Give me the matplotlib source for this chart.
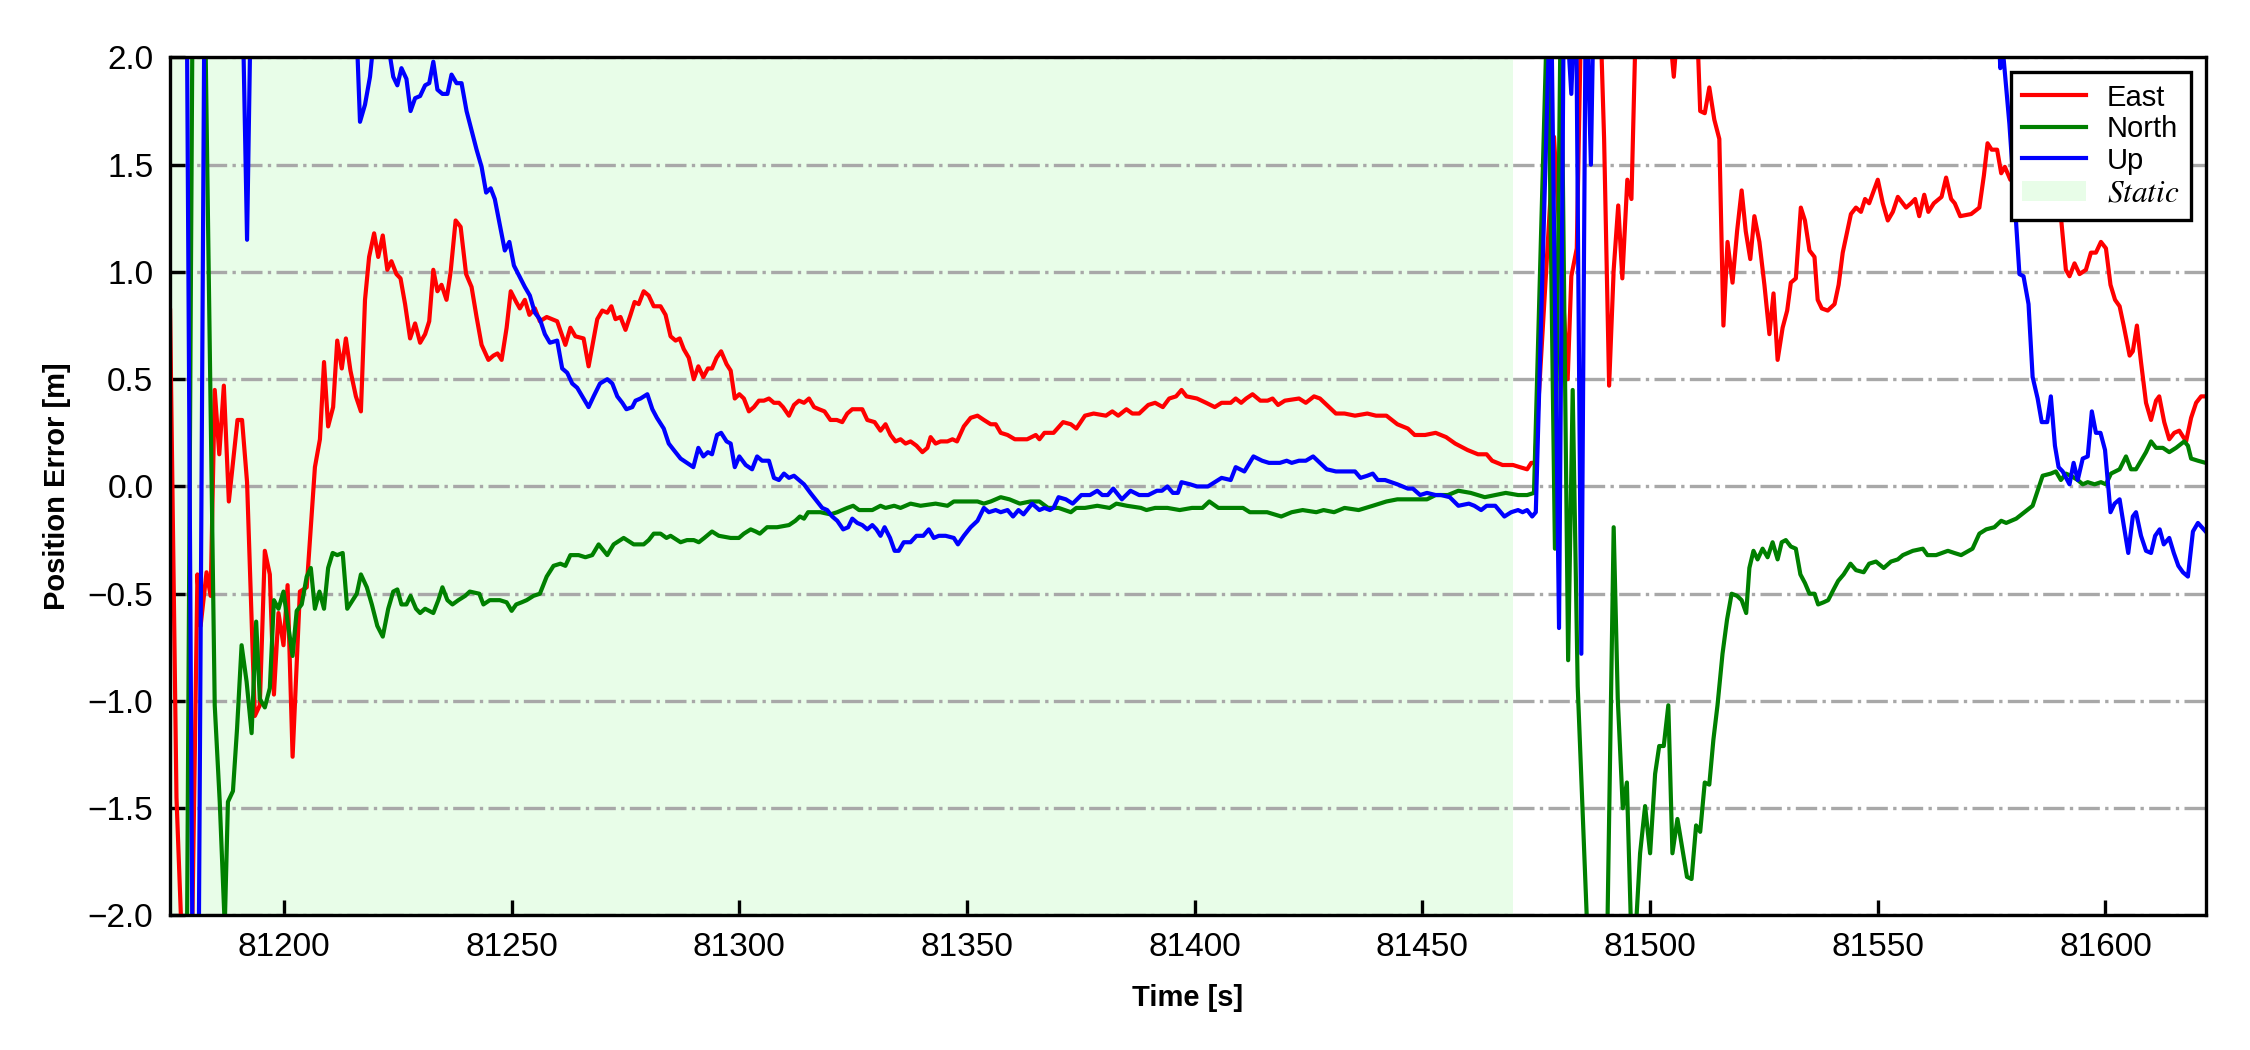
"""Position error (E/N/U) of a static-then-kinematic GNSS run."""

import matplotlib

matplotlib.use("Agg")
import matplotlib.pyplot as plt
import numpy as np
from matplotlib.ticker import MultipleLocator

plt.rcParams["font.family"] = ["Liberation Sans", "DejaVu Sans"]
plt.rcParams["mathtext.fontset"] = "stix"

# (time [s], error [m]) samples; values outside +-2 are clipped spikes
east = [
    (81175.0, 0.82), (81176.4, -1.45), (81177.9, -2.3), (81179.7, -2.3), (81181.0, -0.41),
    (81181.7, -0.65), (81183.0, -0.40), (81183.9, -0.51), (81184.8, 0.45), (81185.8, 0.15),
    (81186.8, 0.47), (81187.9, -0.07), (81189.8, 0.31), (81190.8, 0.31), (81191.9, 0.02),
    (81193.6, -1.07), (81194.7, -1.02), (81195.8, -0.30), (81196.9, -0.41), (81197.8, -0.97),
    (81198.8, -0.59), (81199.9, -0.74), (81200.8, -0.46), (81201.9, -1.26), (81203.5, -0.49),
    (81205.0, -0.47), (81206.8, 0.09), (81207.9, 0.22), (81208.8, 0.58), (81209.7, 0.28),
    (81210.8, 0.37), (81211.7, 0.68), (81212.7, 0.55), (81213.6, 0.69), (81214.6, 0.54),
    (81215.8, 0.42), (81216.9, 0.35), (81217.8, 0.87), (81218.7, 1.07), (81219.8, 1.18),
    (81220.7, 1.07), (81221.7, 1.17), (81222.7, 1.01), (81223.6, 1.05), (81224.7, 0.99),
    (81225.6, 0.97), (81226.6, 0.85), (81227.7, 0.69), (81228.8, 0.76), (81229.9, 0.67),
    (81231.0, 0.71), (81231.9, 0.77), (81232.8, 1.01), (81233.7, 0.91), (81234.6, 0.94),
    (81235.7, 0.87), (81236.6, 1.00), (81237.7, 1.24), (81238.8, 1.21), (81240.0, 0.99),
    (81241.2, 0.93), (81242.3, 0.79), (81243.4, 0.66), (81244.9, 0.59), (81246.0, 0.61),
    (81246.9, 0.62), (81247.8, 0.59), (81248.9, 0.74), (81249.8, 0.91), (81251.0, 0.86),
    (81251.8, 0.83), (81252.9, 0.87), (81253.9, 0.80), (81255.1, 0.83), (81256.2, 0.77),
    (81257.7, 0.79), (81260.0, 0.77), (81261.8, 0.66), (81262.9, 0.74), (81264.0, 0.70),
    (81265.8, 0.69), (81266.9, 0.56), (81268.8, 0.78), (81269.9, 0.82), (81271.0, 0.81),
    (81271.9, 0.84), (81272.8, 0.78), (81273.9, 0.79), (81275.0, 0.73), (81276.1, 0.80),
    (81277.0, 0.86), (81277.9, 0.85), (81279.0, 0.91), (81280.1, 0.89), (81281.2, 0.84),
    (81282.7, 0.84), (81283.8, 0.80), (81284.9, 0.70), (81286.0, 0.68), (81286.9, 0.69),
    (81287.8, 0.64), (81288.9, 0.60), (81290.0, 0.50), (81291.0, 0.56), (81292.1, 0.51),
    (81293.1, 0.55), (81294.0, 0.55), (81295.0, 0.60), (81296.0, 0.63), (81297.2, 0.57),
    (81298.1, 0.54), (81299.0, 0.41), (81300.0, 0.43), (81301.0, 0.41), (81302.1, 0.35),
    (81303.2, 0.37), (81304.3, 0.40), (81305.4, 0.40), (81306.5, 0.41), (81307.6, 0.39),
    (81308.7, 0.39), (81309.6, 0.37), (81310.9, 0.33), (81312.0, 0.38), (81313.1, 0.40),
    (81314.2, 0.39), (81315.3, 0.41), (81316.4, 0.37), (81317.5, 0.36), (81318.7, 0.35),
    (81320.0, 0.31), (81321.4, 0.31), (81322.6, 0.30), (81323.7, 0.34), (81324.8, 0.36),
    (81325.9, 0.36), (81327.0, 0.36), (81328.1, 0.31), (81329.7, 0.30), (81331.0, 0.26),
    (81332.1, 0.29), (81333.2, 0.24), (81334.3, 0.21), (81335.4, 0.22), (81336.5, 0.20),
    (81337.6, 0.21), (81338.9, 0.19), (81340.2, 0.16), (81341.3, 0.18), (81342.0, 0.23),
    (81343.1, 0.20), (81344.2, 0.21), (81345.7, 0.21), (81346.8, 0.22), (81347.8, 0.21),
    (81349.3, 0.28), (81350.8, 0.32), (81352.3, 0.33), (81353.7, 0.31), (81355.2, 0.29),
    (81356.3, 0.29), (81357.4, 0.25), (81358.9, 0.24), (81360.5, 0.22), (81363.2, 0.22),
    (81365.1, 0.24), (81365.9, 0.22), (81367.0, 0.25), (81369.0, 0.25), (81371.1, 0.30),
    (81372.8, 0.29), (81374.0, 0.27), (81375.9, 0.33), (81377.8, 0.34), (81380.5, 0.33),
    (81381.9, 0.35), (81383.2, 0.33), (81385.0, 0.36), (81386.3, 0.34), (81387.8, 0.34),
    (81389.8, 0.38), (81391.3, 0.39), (81393.0, 0.37), (81394.4, 0.41), (81395.9, 0.42),
    (81397.1, 0.45), (81398.2, 0.42), (81400.5, 0.41), (81402.5, 0.39), (81404.4, 0.37),
    (81405.9, 0.39), (81407.9, 0.39), (81409.0, 0.41), (81410.2, 0.39), (81411.3, 0.41),
    (81412.7, 0.43), (81414.4, 0.40), (81416.0, 0.40), (81417.1, 0.41), (81418.3, 0.38),
    (81419.8, 0.40), (81422.9, 0.41), (81424.4, 0.39), (81426.2, 0.42), (81427.5, 0.41),
    (81429.0, 0.38), (81431.0, 0.34), (81432.9, 0.34), (81435.2, 0.33), (81437.9, 0.34),
    (81439.8, 0.33), (81442.1, 0.33), (81444.5, 0.29), (81446.8, 0.27), (81448.3, 0.24),
    (81450.6, 0.24), (81452.9, 0.25), (81455.2, 0.23), (81457.2, 0.20), (81459.9, 0.17),
    (81462.2, 0.15), (81464.1, 0.15), (81465.3, 0.12), (81467.6, 0.10), (81469.9, 0.10),
    (81471.4, 0.09), (81473.0, 0.08), (81473.9, 0.11), (81474.7, 0.11), (81478.9, 1.63),
    (81481.9, 0.50), (81482.7, 0.98), (81483.9, 1.11), (81485.2, 2.6), (81488.5, 2.6),
    (81489.9, 1.62), (81491.0, 0.47), (81492.0, 1.01), (81493.0, 1.31), (81493.9, 0.97),
    (81495.0, 1.43), (81495.9, 1.34), (81496.9, 2.2), (81500.0, 2.5), (81504.4, 2.1),
    (81505.2, 1.91), (81505.9, 2.1), (81508.0, 2.4), (81510.4, 2.1), (81511.0, 1.75),
    (81512.0, 1.74), (81513.0, 1.86), (81514.1, 1.71), (81515.2, 1.62), (81516.1, 0.75),
    (81517.0, 1.14), (81518.1, 0.95), (81519.1, 1.19), (81520.1, 1.38), (81521.0, 1.19),
    (81522.0, 1.06), (81522.9, 1.26), (81524.0, 1.14), (81525.1, 0.94), (81526.2, 0.71),
    (81527.1, 0.90), (81528.0, 0.59), (81529.1, 0.74), (81530.1, 0.82), (81530.9, 0.95),
    (81532.0, 0.97), (81533.1, 1.30), (81534.0, 1.24), (81535.0, 1.10), (81536.1, 1.07),
    (81536.8, 0.87), (81537.7, 0.83), (81539.0, 0.82), (81540.5, 0.85), (81541.4, 0.94),
    (81542.3, 1.09), (81544.1, 1.27), (81545.2, 1.30), (81546.3, 1.28), (81547.2, 1.34),
    (81548.1, 1.32), (81550.0, 1.43), (81551.1, 1.32), (81552.2, 1.24), (81553.3, 1.28),
    (81554.4, 1.35), (81556.2, 1.30), (81557.3, 1.32), (81558.2, 1.34), (81559.1, 1.26),
    (81560.2, 1.36), (81561.1, 1.28), (81562.3, 1.32), (81564.0, 1.35), (81565.0, 1.44),
    (81566.1, 1.34), (81566.9, 1.32), (81568.1, 1.26), (81570.5, 1.27), (81572.3, 1.30),
    (81573.3, 1.45), (81574.1, 1.60), (81575.0, 1.57), (81576.2, 1.57), (81577.1, 1.46),
    (81577.9, 1.49), (81579.1, 1.43), (81582.0, 1.40), (81585.0, 1.35), (81590.2, 1.26),
    (81591.3, 1.01), (81592.1, 0.98), (81593.2, 1.04), (81594.3, 0.99), (81595.7, 1.01),
    (81596.8, 1.09), (81597.9, 1.09), (81599.0, 1.14), (81600.1, 1.11), (81601.1, 0.94),
    (81602.1, 0.87), (81603.1, 0.84), (81604.0, 0.75), (81605.3, 0.61), (81606.0, 0.63),
    (81606.9, 0.75), (81607.8, 0.58), (81608.9, 0.39), (81610.0, 0.31), (81611.1, 0.40),
    (81611.8, 0.42), (81612.9, 0.30), (81614.0, 0.22), (81615.1, 0.25), (81616.2, 0.26),
    (81617.7, 0.21), (81618.8, 0.32), (81619.9, 0.39), (81621.0, 0.42), (81622.0, 0.42),
]

north = [
    (81175.0, -2.5), (81178.6, -2.5), (81180.0, 2.5), (81182.5, 2.5), (81184.8, -1.02),
    (81185.9, -1.47), (81187.0, -2.05), (81187.7, -1.47), (81188.8, -1.42), (81189.7, -1.13),
    (81190.7, -0.74), (81191.8, -0.91), (81192.9, -1.15), (81193.9, -0.63), (81194.7, -0.99),
    (81195.8, -1.03), (81196.9, -0.94), (81197.8, -0.53), (81198.8, -0.57), (81199.9, -0.49),
    (81201.0, -0.66), (81201.9, -0.79), (81202.8, -0.58), (81203.9, -0.55), (81205.0, -0.42),
    (81205.9, -0.38), (81206.8, -0.57), (81207.8, -0.49), (81208.8, -0.57), (81209.7, -0.38),
    (81210.7, -0.31), (81211.7, -0.32), (81212.9, -0.31), (81213.9, -0.57), (81215.1, -0.53),
    (81216.0, -0.50), (81216.9, -0.41), (81218.2, -0.47), (81219.3, -0.55), (81220.5, -0.65),
    (81221.7, -0.70), (81222.9, -0.57), (81224.0, -0.49), (81224.9, -0.48), (81225.8, -0.55),
    (81226.9, -0.55), (81227.8, -0.51), (81229.0, -0.57), (81229.9, -0.59), (81231.0, -0.57),
    (81232.8, -0.59), (81233.9, -0.53), (81234.8, -0.47), (81235.9, -0.53), (81237.0, -0.55),
    (81238.3, -0.53), (81239.8, -0.51), (81240.8, -0.49), (81242.9, -0.50), (81243.8, -0.55),
    (81245.2, -0.53), (81247.4, -0.53), (81248.9, -0.54), (81250.0, -0.58), (81251.0, -0.55),
    (81252.2, -0.54), (81253.3, -0.53), (81254.8, -0.51), (81256.2, -0.50), (81257.7, -0.42),
    (81259.2, -0.37), (81260.7, -0.36), (81261.8, -0.37), (81262.9, -0.32), (81264.7, -0.32),
    (81266.2, -0.33), (81267.7, -0.32), (81269.1, -0.27), (81271.0, -0.32), (81272.4, -0.27),
    (81274.6, -0.24), (81276.8, -0.27), (81279.0, -0.27), (81280.1, -0.25), (81281.2, -0.22),
    (81282.7, -0.22), (81284.0, -0.24), (81284.9, -0.23), (81287.1, -0.26), (81288.5, -0.25),
    (81290.0, -0.25), (81291.1, -0.26), (81292.3, -0.24), (81294.0, -0.21), (81295.5, -0.23),
    (81298.1, -0.24), (81299.9, -0.24), (81301.0, -0.22), (81302.5, -0.20), (81303.6, -0.21),
    (81304.5, -0.22), (81306.1, -0.19), (81308.3, -0.19), (81310.9, -0.18), (81312.3, -0.16),
    (81313.3, -0.14), (81314.2, -0.15), (81315.1, -0.12), (81317.8, -0.12), (81320.0, -0.13),
    (81321.5, -0.12), (81323.7, -0.10), (81325.0, -0.09), (81326.3, -0.11), (81327.7, -0.11),
    (81329.2, -0.11), (81331.0, -0.09), (81332.1, -0.10), (81334.0, -0.09), (81335.4, -0.10),
    (81337.6, -0.08), (81339.8, -0.09), (81343.1, -0.08), (81345.7, -0.09), (81347.1, -0.07),
    (81349.3, -0.07), (81352.3, -0.07), (81353.7, -0.08), (81355.2, -0.07), (81357.4, -0.05),
    (81359.3, -0.06), (81361.6, -0.08), (81363.9, -0.07), (81365.9, -0.07), (81367.8, -0.10),
    (81370.1, -0.10), (81372.8, -0.12), (81374.0, -0.10), (81375.9, -0.10), (81378.6, -0.09),
    (81381.3, -0.10), (81382.8, -0.08), (81385.1, -0.09), (81388.2, -0.10), (81389.4, -0.11),
    (81391.3, -0.10), (81394.0, -0.10), (81396.7, -0.11), (81399.4, -0.10), (81401.7, -0.10),
    (81403.2, -0.07), (81405.2, -0.10), (81408.2, -0.10), (81410.6, -0.10), (81412.1, -0.12),
    (81415.9, -0.12), (81419.0, -0.14), (81421.3, -0.12), (81423.7, -0.11), (81426.7, -0.12),
    (81428.3, -0.11), (81430.6, -0.12), (81432.9, -0.10), (81436.0, -0.11), (81439.1, -0.09),
    (81442.1, -0.07), (81444.5, -0.06), (81447.5, -0.06), (81451.0, -0.06), (81452.9, -0.04),
    (81455.6, -0.04), (81457.9, -0.02), (81460.6, -0.03), (81463.7, -0.05), (81466.0, -0.04),
    (81468.3, -0.03), (81471.0, -0.04), (81473.0, -0.04), (81474.5, -0.03), (81477.5, 2.3),
    (81479.1, -0.29), (81480.4, 2.3), (81482.0, -0.81), (81483.0, 0.45), (81484.1, -0.93),
    (81487.0, -2.5), (81490.3, -2.5), (81492.0, -0.19), (81492.9, -0.99), (81494.0, -1.50),
    (81494.9, -1.38), (81495.8, -2.05), (81496.9, -2.05), (81497.8, -1.71), (81498.9, -1.49),
    (81500.0, -1.71), (81501.1, -1.34), (81502.0, -1.21), (81503.0, -1.21), (81504.0, -1.02),
    (81504.9, -1.71), (81506.0, -1.55), (81507.1, -1.69), (81508.1, -1.82), (81509.1, -1.83),
    (81510.1, -1.58), (81511.0, -1.61), (81512.0, -1.38), (81513.0, -1.39), (81513.9, -1.18),
    (81514.8, -1.02), (81515.9, -0.78), (81516.9, -0.62), (81517.9, -0.50), (81519.1, -0.51),
    (81520.1, -0.53), (81521.1, -0.59), (81521.8, -0.38), (81522.7, -0.30), (81523.6, -0.34),
    (81524.7, -0.29), (81525.8, -0.33), (81526.9, -0.26), (81528.0, -0.34), (81528.9, -0.26),
    (81529.8, -0.25), (81530.9, -0.28), (81532.0, -0.29), (81533.0, -0.41), (81534.0, -0.45),
    (81535.0, -0.50), (81536.1, -0.50), (81536.9, -0.55), (81538.1, -0.54), (81539.1, -0.53),
    (81540.3, -0.48), (81541.3, -0.44), (81542.5, -0.41), (81544.0, -0.36), (81545.2, -0.39),
    (81546.9, -0.40), (81548.1, -0.36), (81549.6, -0.35), (81551.3, -0.38), (81552.9, -0.35),
    (81554.4, -0.34), (81555.5, -0.32), (81557.7, -0.30), (81559.9, -0.29), (81560.9, -0.32),
    (81562.8, -0.32), (81565.4, -0.30), (81566.8, -0.31), (81568.3, -0.32), (81570.8, -0.29),
    (81572.3, -0.22), (81573.8, -0.20), (81575.6, -0.19), (81577.1, -0.16), (81578.2, -0.17),
    (81580.4, -0.15), (81582.2, -0.12), (81584.0, -0.09), (81586.2, 0.05), (81588.0, 0.06),
    (81589.1, 0.07), (81590.2, 0.03), (81591.3, 0.06), (81592.4, 0.05), (81593.9, 0.03),
    (81595.0, 0.01), (81596.1, 0.02), (81597.6, 0.01), (81599.0, 0.02), (81600.1, 0.01),
    (81601.2, 0.06), (81603.1, 0.08), (81604.5, 0.14), (81605.6, 0.08), (81606.7, 0.08),
    (81607.8, 0.12), (81608.9, 0.16), (81610.0, 0.21), (81611.1, 0.18), (81612.6, 0.18),
    (81614.0, 0.16), (81615.5, 0.18), (81617.3, 0.21), (81618.1, 0.19), (81618.8, 0.13),
    (81620.3, 0.12), (81622.0, 0.11),
]

up = [
    (81175.0, 2.5), (81178.6, 2.5), (81180.0, -2.5), (81181.2, -2.5), (81182.6, 2.5),
    (81190.7, 2.5), (81191.9, 1.15), (81192.9, 2.5), (81215.3, 2.5), (81216.7, 1.70),
    (81217.8, 1.78), (81218.9, 1.91), (81219.8, 2.1), (81222.6, 2.1), (81224.0, 1.91),
    (81224.9, 1.87), (81225.8, 1.95), (81226.9, 1.90), (81227.8, 1.75), (81228.8, 1.81),
    (81229.9, 1.82), (81231.0, 1.87), (81231.9, 1.88), (81232.8, 1.98), (81233.7, 1.85),
    (81234.8, 1.83), (81235.9, 1.83), (81236.8, 1.92), (81237.9, 1.88), (81239.0, 1.88),
    (81240.1, 1.75), (81241.2, 1.66), (81242.3, 1.57), (81243.4, 1.49), (81244.4, 1.37),
    (81245.4, 1.39), (81246.3, 1.34), (81247.4, 1.22), (81248.5, 1.10), (81249.5, 1.14),
    (81250.5, 1.03), (81251.7, 0.98), (81252.9, 0.93), (81254.0, 0.89), (81255.1, 0.81),
    (81256.2, 0.78), (81257.3, 0.71), (81258.4, 0.67), (81260.0, 0.68), (81261.1, 0.55),
    (81262.2, 0.53), (81263.3, 0.48), (81264.4, 0.46), (81265.5, 0.42), (81266.9, 0.37),
    (81268.0, 0.42), (81269.4, 0.48), (81271.0, 0.50), (81272.1, 0.48), (81273.2, 0.42),
    (81274.3, 0.39), (81275.2, 0.36), (81276.5, 0.37), (81277.2, 0.40), (81278.3, 0.41),
    (81279.8, 0.43), (81280.9, 0.36), (81281.9, 0.32), (81283.4, 0.27), (81284.5, 0.20),
    (81285.6, 0.17), (81287.1, 0.13), (81288.5, 0.11), (81289.9, 0.09), (81291.0, 0.18),
    (81292.1, 0.14), (81293.1, 0.16), (81294.0, 0.15), (81295.1, 0.24), (81296.0, 0.25),
    (81297.2, 0.21), (81298.1, 0.20), (81299.0, 0.09), (81300.0, 0.14), (81301.4, 0.10),
    (81302.8, 0.08), (81303.9, 0.14), (81305.0, 0.12), (81306.5, 0.12), (81307.6, 0.04),
    (81308.7, 0.03), (81309.8, 0.06), (81310.9, 0.04), (81312.0, 0.05), (81313.1, 0.03),
    (81314.2, 0.01), (81315.6, -0.03), (81317.1, -0.07), (81318.2, -0.10), (81319.3, -0.11),
    (81320.4, -0.14), (81321.5, -0.16), (81322.8, -0.20), (81323.9, -0.19), (81324.8, -0.15),
    (81325.9, -0.17), (81327.0, -0.18), (81328.1, -0.20), (81329.2, -0.18), (81330.1, -0.20),
    (81331.0, -0.23), (81331.9, -0.19), (81333.1, -0.24), (81334.1, -0.30), (81335.0, -0.30),
    (81336.1, -0.26), (81337.6, -0.26), (81338.9, -0.23), (81340.4, -0.23), (81341.6, -0.20),
    (81342.7, -0.24), (81343.8, -0.23), (81345.3, -0.23), (81347.1, -0.24), (81348.0, -0.27),
    (81349.3, -0.23), (81350.8, -0.19), (81352.3, -0.16), (81353.7, -0.10), (81354.8, -0.12),
    (81356.3, -0.11), (81357.4, -0.12), (81358.9, -0.11), (81360.1, -0.14), (81361.3, -0.11),
    (81362.4, -0.13), (81364.3, -0.08), (81365.9, -0.11), (81367.0, -0.10), (81368.2, -0.11),
    (81369.0, -0.10), (81370.1, -0.05), (81371.7, -0.06), (81373.2, -0.08), (81375.1, -0.04),
    (81377.0, -0.04), (81378.6, -0.02), (81379.7, -0.04), (81380.9, -0.04), (81382.1, -0.01),
    (81384.0, -0.06), (81385.9, -0.02), (81387.8, -0.04), (81389.8, -0.04), (81391.7, -0.02),
    (81392.8, -0.02), (81394.0, 0.00), (81395.2, -0.03), (81396.3, -0.03), (81397.1, 0.02),
    (81399.0, 0.01), (81400.5, 0.00), (81402.9, 0.00), (81404.4, 0.02), (81405.9, 0.04),
    (81407.9, 0.03), (81409.0, 0.09), (81410.9, 0.07), (81412.9, 0.14), (81414.8, 0.12),
    (81416.3, 0.11), (81418.7, 0.11), (81420.2, 0.12), (81421.3, 0.11), (81422.9, 0.12),
    (81424.4, 0.12), (81426.0, 0.14), (81427.5, 0.11), (81429.0, 0.08), (81431.0, 0.07),
    (81432.5, 0.07), (81434.1, 0.07), (81435.2, 0.07), (81436.4, 0.04), (81437.9, 0.05),
    (81439.1, 0.06), (81440.2, 0.03), (81441.8, 0.03), (81444.5, 0.01), (81446.8, -0.01),
    (81447.9, -0.01), (81449.5, -0.04), (81451.0, -0.03), (81452.9, -0.04), (81454.1, -0.04),
    (81456.0, -0.05), (81457.9, -0.09), (81460.2, -0.08), (81461.4, -0.09), (81462.9, -0.11),
    (81464.1, -0.09), (81466.0, -0.09), (81468.0, -0.14), (81469.5, -0.12), (81471.0, -0.11),
    (81472.0, -0.12), (81473.0, -0.11), (81474.1, -0.14), (81474.9, -0.12), (81478.2, 2.4),
    (81480.0, -0.66), (81481.1, 2.4), (81482.7, 1.83), (81483.7, 2.4), (81484.9, -0.78),
    (81485.9, 2.4), (81487.0, 1.50), (81487.7, 2.4), (81576.0, 2.4), (81576.9, 1.95),
    (81577.4, 2.05), (81578.9, 1.69), (81580.0, 1.35), (81581.1, 0.99), (81582.0, 0.98),
    (81583.1, 0.85), (81584.0, 0.51), (81585.1, 0.41), (81586.0, 0.30), (81587.2, 0.30),
    (81588.0, 0.42), (81588.9, 0.19), (81589.7, 0.09), (81590.6, 0.07), (81592.1, 0.01),
    (81593.0, 0.11), (81593.9, 0.03), (81595.0, 0.13), (81596.1, 0.14), (81597.0, 0.35),
    (81597.9, 0.25), (81598.9, 0.25), (81599.9, 0.17), (81601.1, -0.12), (81602.0, -0.08),
    (81603.1, -0.06), (81604.0, -0.18), (81605.0, -0.31), (81606.0, -0.14), (81606.7, -0.12),
    (81607.8, -0.23), (81608.9, -0.30), (81610.0, -0.31), (81610.9, -0.23), (81611.9, -0.20),
    (81612.8, -0.27), (81614.0, -0.24), (81615.0, -0.31), (81616.0, -0.37), (81617.0, -0.40),
    (81618.1, -0.42), (81619.2, -0.21), (81620.3, -0.17), (81622.0, -0.21),
]

static_end = 81470.0
series = [("East", east, "red"), ("North", north, "green"), ("Up", up, "blue")]


def main():
    fig = plt.figure(figsize=(7.5, 3.5), dpi=300)
    ax = fig.add_axes([0.0756, 0.1281, 0.9047, 0.8172])

    t_start = east[0][0]
    t_end = east[-1][0]
    span = ax.axvspan(t_start, static_end, facecolor="#e8fde8", edgecolor="none",
                      zorder=0, label="$Static$")

    handles = []
    for label, pts, color in series:
        t, v = np.array(pts).T
        (line,) = ax.plot(t, v, color=color, lw=1.0, label=label)
        handles.append(line)
    handles.append(span)

    ax.set_xlim(t_start, t_end)
    ax.set_ylim(-2.0, 2.0)
    ax.xaxis.set_major_locator(MultipleLocator(50))
    ax.yaxis.set_major_locator(MultipleLocator(0.5))
    ax.ticklabel_format(axis="x", useOffset=False)
    ax.tick_params(direction="in", labelsize=8, pad=4, top=False, right=False)
    ax.yaxis.grid(True, linestyle="-.", color="#a8a8a8", lw=0.8)

    ax.set_xlabel("Time [s]", fontsize=7, fontweight="bold", labelpad=5)
    ax.set_ylabel("Position Error [m]", fontsize=7, fontweight="bold", labelpad=4)

    leg = ax.legend(handles=handles, loc="upper right", fontsize=7, fancybox=False,
                    framealpha=1, edgecolor="black", labelspacing=0.12,
                    handlelength=2.2, handletextpad=0.7, borderpad=0.4)
    leg.get_frame().set_linewidth(0.8)
    leg.get_texts()[3].set_fontsize(7.5)

    fig.savefig("out.png", dpi=300)
    plt.close(fig)


if __name__ == "__main__":
    main()
